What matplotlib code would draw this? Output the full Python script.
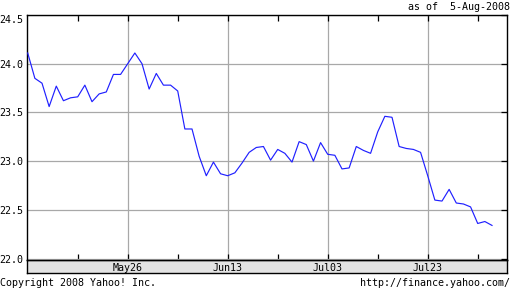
import matplotlib
matplotlib.use("Agg")
import matplotlib.pyplot as plt

# closing prices, one per trading day, 5-May-2008 .. 5-Aug-2008
prices = [24.11, 23.85, 23.80, 23.56, 23.77, 23.62, 23.65, 23.66, 23.78, 23.61,
          23.69, 23.71, 23.89, 23.89, 24.00, 24.11, 24.00, 23.74, 23.90, 23.78,
          23.78, 23.72, 23.33, 23.33, 23.05, 22.85, 22.99, 22.87, 22.85, 22.88,
          22.98, 23.09, 23.14, 23.15, 23.01, 23.12, 23.08, 22.99, 23.20, 23.17,
          23.00, 23.19, 23.07, 23.06, 22.92, 22.93, 23.15, 23.11, 23.08, 23.30,
          23.46, 23.45, 23.15, 23.13, 23.12, 23.09, 22.85, 22.60, 22.59, 22.71,
          22.57, 22.56, 22.53, 22.36, 22.38, 22.34]
days = list(range(len(prices)))

date_ticks = [14, 28, 42, 56]
date_labels = ["May26", "Jun13", "Jul03", "Jul23"]
minor_ticks = [7, 21, 35, 49, 63]
price_ticks = [22.0, 22.5, 23.0, 23.5, 24.0, 24.5]
price_labels = ["22.0", "22.5", "23.0", "23.5", "24.0", "24.5"]

plt.rcParams["font.family"] = ["DejaVu Sans Mono"]
plt.rcParams["font.size"] = 7.2

W, H = 512, 288
fig = plt.figure(figsize=(W / 100, H / 100), dpi=100)

left, right, top, bottom, band = 27, 507, 15, 260, 273.3

# grey date band under the plot
axb = fig.add_axes([left / W, 1 - band / H, (right - left) / W, (band - bottom) / H])
axb.set_facecolor("#e3e3e3")
axb.set_xticks([])
axb.set_yticks([])
for s in axb.spines.values():
    s.set_linewidth(1.0)

ax = fig.add_axes([left / W, 1 - bottom / H, (right - left) / W, (bottom - top) / H])
ax.set_facecolor("none")
ax.plot(days, prices, color="#2020ff", lw=0.85, zorder=3)

ax.set_xlim(-0.1, 67.1)
ax.set_ylim(21.985, 24.5)

ax.set_xticks(date_ticks)
ax.set_xticklabels(date_labels)
ax.set_xticks(minor_ticks, minor=True)
ax.set_yticks(price_ticks)
ax.set_yticklabels(price_labels)
# top label sits just under the frame, like the original
ax.get_yticklabels()[-1].set_va("top")

ax.grid(True, which="major", color="#a8a8a8", lw=0.9)
ax.tick_params(axis="x", which="both", direction="in", top=True, bottom=True,
               length=4, width=0.9, color="black", pad=2.0)
ax.tick_params(axis="y", which="both", direction="in", left=False, right=True,
               length=4, width=0.9, color="black", pad=3)
for s in ax.spines.values():
    s.set_linewidth(1.0)

fig.text(510 / W, 1 - 7 / H, "as of  5-Aug-2008", ha="right", va="center")
fig.text(0, 1 - 282.5 / H, "Copyright 2008 Yahoo! Inc.", ha="left", va="center")
fig.text(510 / W, 1 - 282.5 / H, "http://finance.yahoo.com/", ha="right", va="center")

fig.savefig("out.png", dpi=100)
